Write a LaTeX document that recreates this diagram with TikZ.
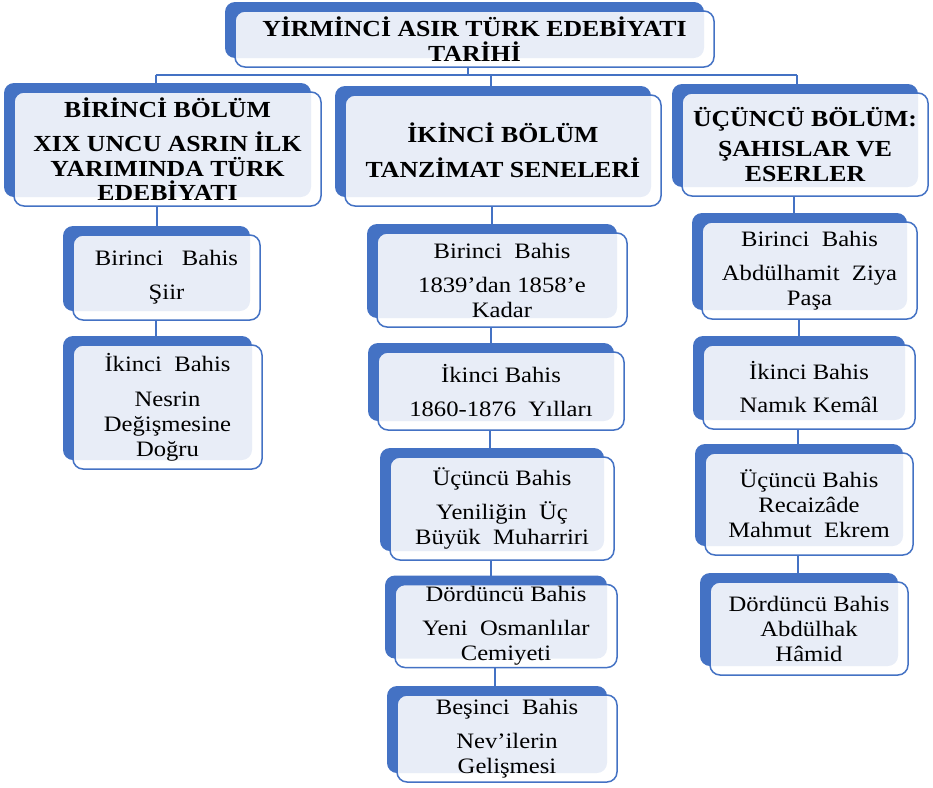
\documentclass[tikz,border=0pt]{standalone}
\usepackage{fontspec}
\setmainfont{Liberation Serif}[FakeStretch=1.12]
\usetikzlibrary{shadows,backgrounds}
\definecolor{mavi}{HTML}{4472C4}

\begin{document}
\begin{tikzpicture}[x=1pt,y=-1pt]
  % Stiller
  \tikzset{
    kutu/.style={draw=mavi, line width=1.5pt, rounded corners=10pt,
      fill=white, fill opacity=0.88, text opacity=1, align=center,
      inner sep=2pt, font=\fontsize{22}{25}\selectfont,
      copy shadow={shadow xshift=-10pt, shadow yshift=9pt, fill=mavi,
        draw=none, fill opacity=1}},
    bolum/.style={kutu, font=\fontsize{23}{24.5}\selectfont\bfseries},
    boyut/.style 2 args={minimum width=#1, minimum height=#2},
    bag/.style={draw=mavi, line width=2pt},
  }

  \useasboundingbox (0,0) rectangle (933,787);

  % Baslik ve bolumler
  \node[bolum, boyut={479pt}{56pt}] (baslik) at (474.5,39)
    {\rule{0pt}{20pt}YİRMİNCİ ASIR TÜRK EDEBİYATI\\TARİHİ};
  \node[bolum, boyut={307pt}{114pt}] (bolum1) at (167.5,149)
    {BİRİNCİ BÖLÜM\\[10pt]XIX UNCU ASRIN İLK\\YARIMINDA TÜRK\\EDEBİYATI};
  \node[bolum, boyut={316pt}{111pt}] (bolum2) at (503,150.5)
    {İKİNCİ BÖLÜM\\[10pt]TANZİMAT SENELERİ};
  \node[bolum, boyut={246pt}{103pt}] (bolum3) at (805,144.5)
    {ÜÇÜNCÜ BÖLÜM:\\[6pt]ŞAHISLAR VE\\ESERLER};

  % Birinci bolum bahisleri
  \node[kutu, boyut={187pt}{85pt}] (c1a) at (166.5,277.5)
    {Birinci~~~Bahis\\[9pt]Şiir};
  \node[kutu, boyut={189pt}{124pt}] (c1b) at (167.5,407)
    {İkinci~~Bahis\\[10pt]Nesrin\\Değişmesine\\Doğru};

  % Ikinci bolum bahisleri
  \node[kutu, boyut={250pt}{94pt}] (c2a) at (502,280)
    {Birinci~~Bahis\\[9pt]1839’dan 1858’e\\Kadar};
  \node[kutu, boyut={246pt}{78pt}] (c2b) at (501,391)
    {İkinci Bahis\\[9pt]1860-1876~~Yılları};
  \node[kutu, boyut={224pt}{103pt}] (c2c) at (502,508.5)
    {Üçüncü Bahis\\[9pt]Yeniliğin~~Üç\\Büyük~~Muharriri};
  \node[kutu, boyut={222pt}{82pt}] (c2d) at (506,626)
    {Dördüncü Bahis\\[9pt]Yeni~~Osmanlılar\\Cemiyeti};
  \node[kutu, boyut={220pt}{87pt}] (c2e) at (507,738.5)
    {Beşinci~~Bahis\\[9pt]Nev’ilerin\\Gelişmesi};

  % Ucuncu bolum bahisleri
  \node[kutu, boyut={215pt}{97pt}] (c3a) at (809.5,270.5)
    {Birinci~~Bahis\\[9pt]Abdülhamit~~Ziya\\Paşa};
  \node[kutu, boyut={212pt}{84pt}] (c3b) at (809,387)
    {İkinci Bahis\\[8pt]Namık Kemâl};
  \node[kutu, boyut={208pt}{102pt}] (c3c) at (809,504)
    {Üçüncü Bahis\\Recaizâde\\Mahmut~~Ekrem};
  \node[kutu, boyut={198pt}{93pt}] (c3d) at (809,628.5)
    {Dördüncü Bahis\\Abdülhak\\Hâmid};

  % Baglantilar
  \begin{scope}[on background layer]
    \coordinate (hat) at (467,75);
    \draw[bag] ([xshift=-7pt]baslik.south) -- ([xshift=-7pt]baslik.south |- hat);
    \draw[bag] ([xshift=-12pt]bolum1.north |- hat) -- ([xshift=-8pt]bolum3.north |- hat);
    \foreach \b/\s in {bolum1/-12pt, bolum2/-12pt, bolum3/-8pt}
      \draw[bag] ([xshift=\s]\b.north |- hat) -- ([xshift=\s]\b.north);
    \foreach \a/\b in {bolum1/c1a, c1a/c1b, bolum2/c2a, c2a/c2b, c2b/c2c,
      c2c/c2d, c2d/c2e, bolum3/c3a, c3a/c3b, c3b/c3c, c3c/c3d}
      \draw[bag] ([xshift=-11pt]\a.south) -- ([xshift=-11pt]\a.south |- \b.north);
  \end{scope}

\end{tikzpicture}
\end{document}
